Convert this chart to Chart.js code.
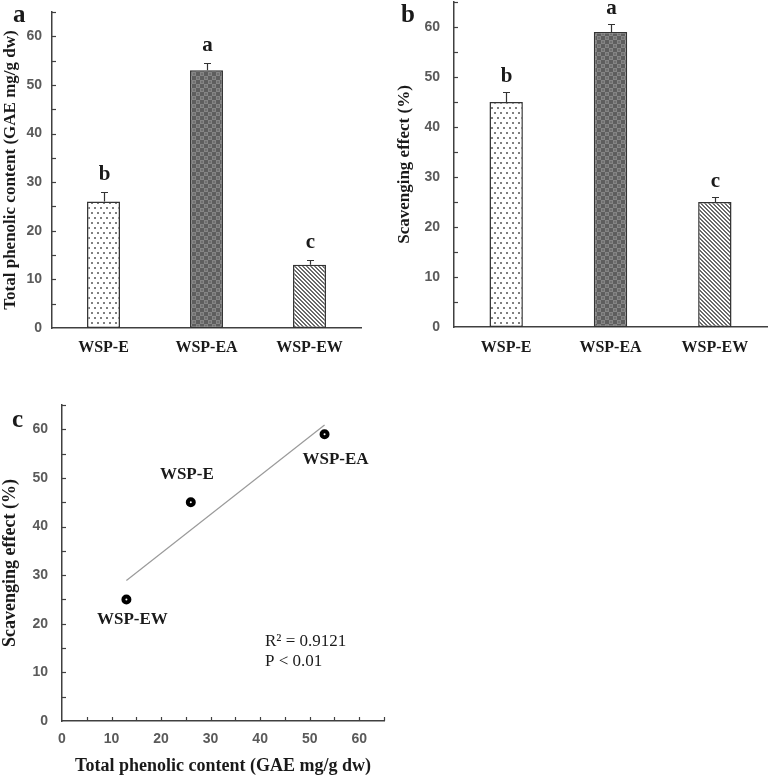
<!DOCTYPE html>
<html><head><meta charset="utf-8">
<script src="https://cdn.jsdelivr.net/npm/chart.js@4.4.1/dist/chart.umd.min.js"></script>
<style>
html,body{margin:0;padding:0;background:#fff;}
#wrap{position:relative;width:769px;height:777px;overflow:hidden;background:#fff;}
.pane{position:absolute;}
canvas{display:block;}
</style></head><body>
<div id="wrap">
<div class="pane" style="left:0;top:0;"><canvas id="ca" width="385" height="380"></canvas></div>
<div class="pane" style="left:385px;top:0;"><canvas id="cb" width="384" height="380"></canvas></div>
<div class="pane" style="left:0;top:380px;"><canvas id="cc" width="400" height="397"></canvas></div>
</div>
<script>
// ---- data ----
const categories = ['WSP-E', 'WSP-EA', 'WSP-EW'];
const phenolic = [26, 53, 13];
const phenolicErr = [2, 1.5, 1];
const phenolicLetters = ['b', 'a', 'c'];
const scavenging = [45, 59, 25];
const scavengingErr = [2, 1.5, 1];
const scavengingLetters = ['b', 'a', 'c'];
const yTickValues = [0, 10, 20, 30, 40, 50, 60];
const xTickValues = [0, 10, 20, 30, 40, 50, 60];
const trendX = [13, 53];
const trendY = [28.9, 60.9];
const statsText = ['R\u00B2 = 0.9121', 'P < 0.01'];
const panelLetters = ['a', 'b', 'c'];
const titlePhenolic = 'Total phenolic content (GAE mg/g dw)';
const titleScavenging = 'Scavenging effect (%)';
const axisMax = 65;
const minorStep = 5;

// ---- styles ----
const SERIF = '"Liberation Serif", "Times New Roman", serif';
const SANS = '"Liberation Sans", Arial, sans-serif';
const AX = '#404040';
const TXT = '#1a1a1a';
const TICK = '#5a5a5a';

function tile(w, h, draw) {
  const c = document.createElement('canvas');
  c.width = w; c.height = h;
  const g = c.getContext('2d');
  draw(g);
  return document.createElement('canvas').getContext('2d').createPattern(c, 'repeat');
}
const dotFill = tile(6, 10, g => {
  g.fillStyle = '#fff'; g.fillRect(0, 0, 6, 10);
  g.fillStyle = '#808080'; g.fillRect(1, 2, 2, 2); g.fillRect(4, 7, 2, 2);
});
const checkFill = tile(8, 8, g => {
  g.fillStyle = '#5e5e5e'; g.fillRect(0, 0, 8, 8);
  g.fillStyle = '#858585'; g.fillRect(0, 0, 4, 4); g.fillRect(4, 4, 4, 4);
  g.fillStyle = '#707070'; g.fillRect(1, 1, 2, 2); g.fillRect(5, 5, 2, 2);
});
const hatchFill = tile(4, 4, g => {
  g.fillStyle = '#fff'; g.fillRect(0, 0, 4, 4);
  g.fillStyle = '#6a6a6a';
  for (let i = 0; i < 4; i++) { g.fillRect(i, i, 1, 1); g.fillRect((i + 1) % 4, i, 1, 1); }
});
const barFills = [dotFill, checkFill, hatchFill];

function zeroPad(s) { s.paddingTop = 0; s.paddingBottom = 0; s.paddingLeft = 0; s.paddingRight = 0; }

const inwardTicks = {
  id: 'inwardTicks',
  afterDraw(chart) {
    const ctx = chart.ctx;
    ctx.save();
    ctx.strokeStyle = AX; ctx.lineWidth = 1.2;
    const y = chart.scales.y;
    for (let v = minorStep; v <= axisMax; v += minorStep) {
      const py = Math.round(y.getPixelForValue(v)) + 0.5;
      ctx.beginPath(); ctx.moveTo(y.right, py); ctx.lineTo(y.right + 4, py); ctx.stroke();
    }
    const x = chart.scales.x;
    if (x.type === 'linear') {
      for (let v = minorStep; v <= axisMax; v += minorStep) {
        const px = Math.round(x.getPixelForValue(v)) + 0.5;
        ctx.beginPath(); ctx.moveTo(px, x.top); ctx.lineTo(px, x.top - 4); ctx.stroke();
      }
    }
    ctx.restore();
  }
};

function panelLabel(letter, px, py) {
  return {
    id: 'panelLabel',
    afterDraw(chart) {
      const ctx = chart.ctx;
      ctx.save();
      ctx.fillStyle = TXT;
      ctx.font = 'bold 25px ' + SERIF;
      ctx.textAlign = 'left'; ctx.textBaseline = 'alphabetic';
      ctx.fillText(letter, px, py);
      ctx.restore();
    }
  };
}

function errorBars(errs, letters, gap) {
  return {
    id: 'errorBars',
    afterDatasetsDraw(chart) {
      const ctx = chart.ctx;
      const x = chart.scales.x, y = chart.scales.y;
      const vals = chart.data.datasets[0].data;
      ctx.save();
      ctx.strokeStyle = '#333'; ctx.lineWidth = 1.2;
      ctx.fillStyle = TXT;
      ctx.font = 'bold 21px ' + SERIF;
      ctx.textAlign = 'center'; ctx.textBaseline = 'alphabetic';
      vals.forEach((v, i) => {
        const px = Math.round(x.getPixelForValue(i)) + 0.5;
        const yTop = Math.round(y.getPixelForValue(v + errs[i])) + 0.5;
        const yBase = y.getPixelForValue(v);
        ctx.beginPath();
        ctx.moveTo(px, yBase); ctx.lineTo(px, yTop);
        ctx.moveTo(px - 3.5, yTop); ctx.lineTo(px + 3.5, yTop);
        ctx.stroke();
        ctx.fillText(letters[i], px, yTop - gap);
      });
      ctx.restore();
    }
  };
}

function barChart(id, values, errs, letters, title, geo, letter) {
  return new Chart(document.getElementById(id), {
    type: 'bar',
    data: {
      labels: categories,
      datasets: [{
        data: values,
        backgroundColor: barFills,
        borderColor: '#333',
        borderWidth: 1.5,
        borderSkipped: false,
        barPercentage: 0.32,
        categoryPercentage: 1
      }]
    },
    options: {
      responsive: false, animation: false, devicePixelRatio: 1,
      layout: { padding: { left: 0, top: geo.top, right: geo.right, bottom: 0 } },
      plugins: { legend: { display: false }, tooltip: { enabled: false } },
      scales: {
        x: {
          grid: { display: false, drawTicks: false, tickLength: 0 },
          border: { display: true, color: AX, width: 1.5 },
          ticks: { color: TXT, font: { family: SERIF, size: 16, weight: 'bold' }, padding: geo.xPad, maxRotation: 0 },
          afterFit: s => { s.height = geo.xH; zeroPad(s); }
        },
        y: {
          min: 0, max: axisMax,
          grid: { display: false, drawTicks: false, tickLength: 0 },
          border: { display: true, color: AX, width: 1.5 },
          ticks: { color: TICK, font: { family: SANS, size: 14, weight: 'bold' }, padding: geo.yPad },
          afterBuildTicks: s => { s.ticks = yTickValues.map(v => ({ value: v })); },
          afterFit: s => { s.width = geo.yW; zeroPad(s); },
          title: { display: true, text: title, color: TXT, font: { family: SERIF, size: geo.titleSize, weight: 'bold' }, padding: { top: geo.titlePad, bottom: 0 } }
        }
      }
    },
    plugins: [inwardTicks, errorBars(errs, letters, geo.gap), panelLabel(letter, geo.lx, geo.ly)]
  });
}

barChart('ca', phenolic, phenolicErr, phenolicLetters, titlePhenolic,
  { top: 12, right: 24, xH: 52, yW: 52, xPad: 10, yPad: 10, titleSize: 17, titlePad: 0, gap: 13, lx: 13, ly: 22 }, panelLetters[0]);
barChart('cb', scavenging, scavengingErr, scavengingLetters, titleScavenging,
  { top: 2, right: 2, xH: 53, yW: 69, xPad: 11, yPad: 14, titleSize: 17, titlePad: 9, gap: 11, lx: 16, ly: 22 }, panelLetters[1]);

// ---- panel c ----
const pointLabelOffsets = [[-4, -28], [11, 25], [6, 20]];
const pointLabels = {
  id: 'pointLabels',
  afterDatasetsDraw(chart) {
    const ctx = chart.ctx;
    const meta = chart.getDatasetMeta(0);
    ctx.save();
    ctx.fillStyle = TXT;
    ctx.font = 'bold 17px ' + SERIF;
    ctx.textAlign = 'center'; ctx.textBaseline = 'middle';
    meta.data.forEach((pt, i) => {
      ctx.fillText(categories[i], pt.x + pointLabelOffsets[i][0], pt.y + pointLabelOffsets[i][1]);
    });
    ctx.font = '17px ' + SERIF;
    ctx.textAlign = 'left';
    statsText.forEach((t, i) => ctx.fillText(t, 265, 262 + i * 20));
    ctx.restore();
  }
};

new Chart(document.getElementById('cc'), {
  type: 'scatter',
  data: {
    datasets: [
      {
        data: categories.map((c, i) => ({ x: phenolic[i], y: scavenging[i] })),
        pointRadius: 3, pointBorderWidth: 4, pointBorderColor: '#000', pointBackgroundColor: '#ffffff',
        showLine: false
      },
      {
        type: 'line',
        data: trendX.map((v, i) => ({ x: v, y: trendY[i] })),
        borderColor: '#9a9a9a', borderWidth: 1.2, pointRadius: 0, fill: false, tension: 0
      }
    ]
  },
  options: {
    responsive: false, animation: false, devicePixelRatio: 1,
    layout: { padding: { left: 0, top: 25, right: 16, bottom: 0 } },
    plugins: { legend: { display: false }, tooltip: { enabled: false } },
    scales: {
      x: {
        type: 'linear', min: 0, max: axisMax,
        grid: { display: false, drawTicks: false, tickLength: 0 },
        border: { display: true, color: AX, width: 1.5 },
        ticks: { color: TICK, font: { family: SANS, size: 14, weight: 'bold' }, padding: 10, maxRotation: 0 },
        afterBuildTicks: s => { s.ticks = xTickValues.map(v => ({ value: v })); },
        afterFit: s => { s.height = 56; zeroPad(s); },
        title: { display: true, text: titlePhenolic, color: TXT, font: { family: SERIF, size: 18, weight: 'bold' }, padding: { top: 0, bottom: 0 } }
      },
      y: {
        min: 0, max: axisMax,
        grid: { display: false, drawTicks: false, tickLength: 0 },
        border: { display: true, color: AX, width: 1.5 },
        ticks: { color: TICK, font: { family: SANS, size: 14, weight: 'bold' }, padding: 14 },
        afterBuildTicks: s => { s.ticks = yTickValues.map(v => ({ value: v })); },
        afterFit: s => { s.width = 62; zeroPad(s); },
        title: { display: true, text: titleScavenging, color: TXT, font: { family: SERIF, size: 18, weight: 'bold' }, padding: { top: 0, bottom: 0 } }
      }
    }
  },
  plugins: [inwardTicks, pointLabels, panelLabel(panelLetters[2], 12, 47)]
});
</script>
</body></html>
